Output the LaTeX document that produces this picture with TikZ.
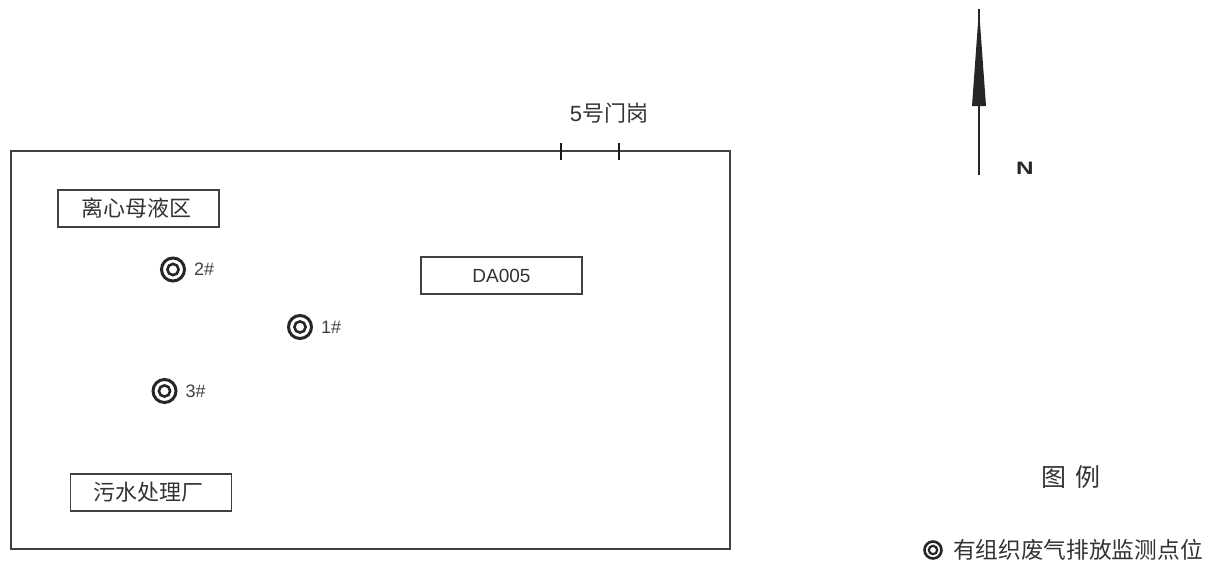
\documentclass[tikz,border=0pt]{standalone}
\usepackage{fontspec}
\setmainfont{Liberation Sans}
\newfontfamily\cjk{Noto Sans CJK SC}
\usetikzlibrary{arrows.meta, positioning, calc}

\begin{document}
\begin{tikzpicture}[
        x=1pt, y=-1pt,
        node distance=4pt and 8pt,
        area/.style={rectangle, draw=black!75, line width=1.4pt, minimum width=161pt, minimum height=37pt, inner sep=0pt, align=center, font=\cjk\fontsize{22}{24}\selectfont, text=black!80},
        ring/.style={circle, draw=black!85, line width=3pt, minimum size=23pt, inner sep=0pt,
            path picture={\draw[black!85, line width=2.6pt] (path picture bounding box.center) circle (5.6pt);}},
        tag/.style={inner sep=0pt, font=\fontsize{18}{20}\selectfont, text=black!75},
        tick/.style={draw=black!90, line width=2pt}
    ]
        \useasboundingbox (0,0) rectangle (1216,565);

        % site
        \node[rectangle, draw=black!75, line width=1.4pt, minimum width=719pt, minimum height=398pt, inner sep=0pt] (site) at (370.5,350) {};
        \node[area] (centrifuge) at (138.5,208.5) {离心母液区\hspace{5pt}};
        \node[area] (sewage) at (151,492.5) {污水处理厂\hspace{5pt}};
        \node[area, font=\fontsize{19}{21}\selectfont] (da) at (501.5,275.5) {DA005};

        % monitoring points
        \node[ring] (p2) at (173,269.5) {};
        \node[tag, right=of p2] {2\#};
        \node[ring] (p1) at (300,327) {};
        \node[tag, right=of p1] {1\#};
        \node[ring] (p3) at (164.5,391) {};
        \node[tag, right=of p3] {3\#};

        % gate
        \coordinate (gateA) at (561,151);
        \coordinate (gateB) at (618.5,151);
        \draw[tick] ($(gateA)+(0,-8)$) -- ($(gateA)+(0,9)$);
        \draw[tick] ($(gateB)+(0,-8)$) -- ($(gateB)+(0,9)$);
        \node[inner sep=0pt, font=\cjk\fontsize{22}{24}\selectfont, text=black!80] (gate) at (609,113) {\fontspec{Liberation Sans}5\cjk 号门岗};

        % north
        \coordinate (tip) at (979,9);
        \coordinate (tail) at (979,175);
        \coordinate (barbL) at (972,106);
        \coordinate (barbR) at (986,106);
        \fill[black!85] (tip) -- (barbR) -- (barbL) -- cycle;
        \draw[black!85, line width=2.2pt] (tip) -- (tail);
        \node[inner sep=0pt, xscale=1.35, font=\bfseries\fontsize{18}{20}\selectfont, text=black!85] (north) at (1025,168) {N};

        % legend
        \node[inner sep=0pt, font=\cjk\fontsize{25}{28}\selectfont, text=black!80] (legend) at (1071,477) {图\hspace{9pt}例};
        \node[ring, minimum size=17pt, line width=2.6pt,
            path picture={\draw[black!85, line width=2.2pt] (path picture bounding box.center) circle (4.2pt);}] (key) at (933,550) {};
        \node[inner sep=0pt, font=\cjk\fontsize{22.7}{25}\selectfont, text=black!80, right=10pt of key] (keytext) {有组织废气排放监测点位};
    \end{tikzpicture}
\end{document}
